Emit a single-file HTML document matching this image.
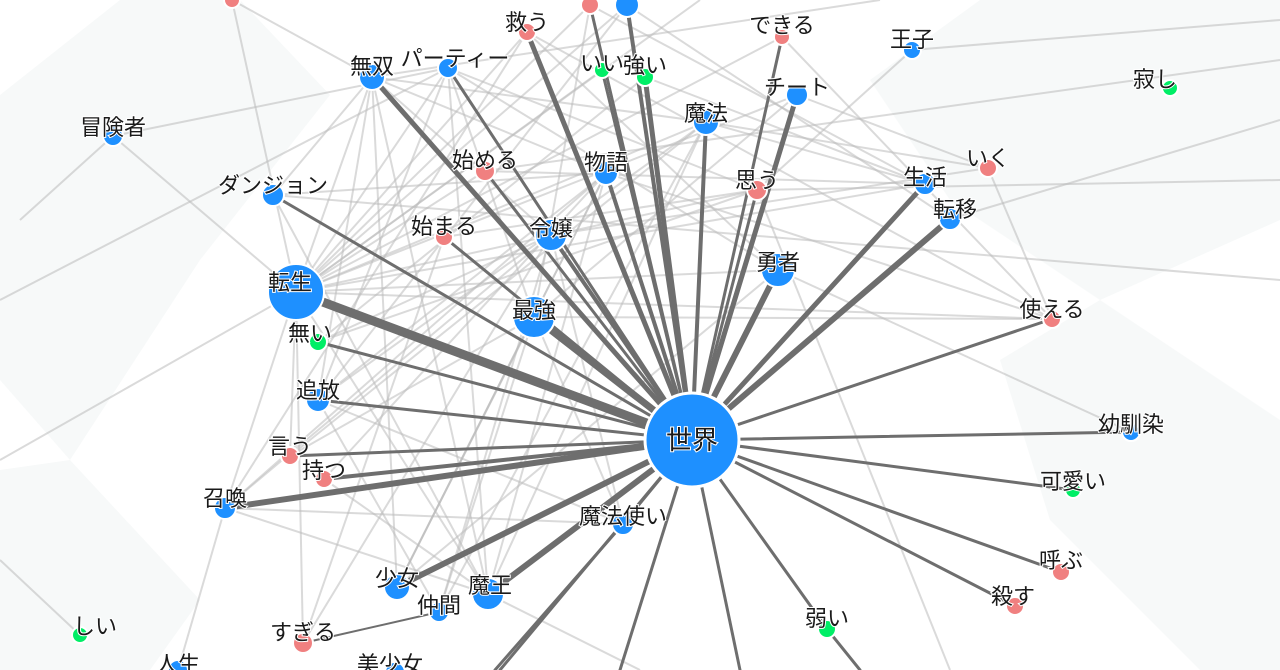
<!DOCTYPE html>
<html><head><meta charset="utf-8"><style>
html,body{margin:0;padding:0;background:#fff;width:1280px;height:670px;overflow:hidden}
svg text{font-family:"Liberation Sans","Noto Sans CJK JP",sans-serif;font-size:22px;fill:#1a1a1a;text-anchor:middle;stroke:#fff;stroke-width:2px;paint-order:stroke}
</style></head><body>
<svg width="1280" height="670" viewBox="0 0 1280 670" xmlns="http://www.w3.org/2000/svg">
<g fill="#f7f9f9">
<polygon points="0,95 120,0 240,0 330,95 200,260 70,460 0,380"/>
<polygon points="0,470 70,460 200,600 150,670 0,670"/>
<polygon points="870,80 980,0 1280,0 1280,220 1100,300 950,200"/>
<polygon points="1000,360 1100,300 1280,420 1280,670 1200,670 1050,520"/>
</g>
<g stroke="#bbb" stroke-opacity="0.55" stroke-width="2" fill="none">
<line x1="113" y1="136" x2="448" y2="68"/><line x1="113" y1="136" x2="296" y2="292"/><line x1="113" y1="136" x2="20" y2="220"/>
<line x1="232" y1="0" x2="296" y2="292"/><line x1="232" y1="0" x2="372" y2="77"/><line x1="372" y1="77" x2="296" y2="292"/>
<line x1="372" y1="77" x2="551" y2="235"/><line x1="372" y1="77" x2="606" y2="173"/><line x1="372" y1="77" x2="706" y2="122"/>
<line x1="372" y1="77" x2="318" y2="400"/><line x1="372" y1="77" x2="397" y2="587"/><line x1="372" y1="77" x2="488" y2="594"/>
<line x1="448" y1="68" x2="296" y2="292"/><line x1="448" y1="68" x2="534" y2="317"/><line x1="448" y1="68" x2="778" y2="270"/>
<line x1="448" y1="68" x2="318" y2="400"/><line x1="448" y1="68" x2="488" y2="594"/><line x1="527" y1="32" x2="296" y2="292"/>
<line x1="527" y1="32" x2="225" y2="508"/><line x1="527" y1="32" x2="778" y2="270"/><line x1="527" y1="32" x2="1052" y2="319"/>
<line x1="590" y1="5" x2="296" y2="292"/><line x1="590" y1="5" x2="534" y2="317"/><line x1="590" y1="5" x2="925" y2="184"/>
<line x1="627" y1="5" x2="296" y2="292"/><line x1="627" y1="5" x2="950" y2="219"/><line x1="627" y1="5" x2="318" y2="400"/>
<line x1="602" y1="70" x2="296" y2="292"/><line x1="645" y1="77" x2="318" y2="342"/><line x1="645" y1="77" x2="925" y2="184"/>
<line x1="706" y1="122" x2="296" y2="292"/><line x1="706" y1="122" x2="318" y2="400"/><line x1="706" y1="122" x2="925" y2="184"/>
<line x1="706" y1="122" x2="988" y2="168"/><line x1="706" y1="122" x2="488" y2="594"/><line x1="797" y1="95" x2="296" y2="292"/>
<line x1="797" y1="95" x2="988" y2="168"/><line x1="797" y1="95" x2="534" y2="317"/><line x1="782" y1="37" x2="296" y2="292"/>
<line x1="782" y1="37" x2="1052" y2="319"/><line x1="912" y1="50" x2="757" y2="190"/><line x1="912" y1="50" x2="1280" y2="20"/>
<line x1="606" y1="173" x2="1052" y2="319"/><line x1="606" y1="173" x2="225" y2="508"/><line x1="606" y1="173" x2="397" y2="587"/>
<line x1="485" y1="171" x2="296" y2="292"/><line x1="485" y1="171" x2="925" y2="184"/><line x1="444" y1="237" x2="757" y2="190"/>
<line x1="444" y1="237" x2="303" y2="643"/><line x1="551" y1="235" x2="225" y2="508"/><line x1="551" y1="235" x2="303" y2="643"/>
<line x1="551" y1="235" x2="988" y2="168"/><line x1="551" y1="235" x2="439" y2="612"/><line x1="534" y1="317" x2="290" y2="456"/>
<line x1="534" y1="317" x2="1052" y2="319"/><line x1="534" y1="317" x2="397" y2="587"/><line x1="534" y1="317" x2="439" y2="612"/>
<line x1="778" y1="270" x2="296" y2="292"/><line x1="778" y1="270" x2="397" y2="587"/><line x1="778" y1="270" x2="1131" y2="432"/>
<line x1="296" y1="292" x2="757" y2="190"/><line x1="296" y1="292" x2="925" y2="184"/><line x1="296" y1="292" x2="290" y2="456"/>
<line x1="296" y1="292" x2="303" y2="643"/><line x1="296" y1="292" x2="488" y2="594"/><line x1="296" y1="292" x2="1052" y2="319"/>
<line x1="273" y1="195" x2="606" y2="173"/><line x1="273" y1="195" x2="488" y2="594"/><line x1="273" y1="195" x2="1280" y2="280"/>
<line x1="318" y1="342" x2="757" y2="190"/><line x1="318" y1="342" x2="551" y2="235"/><line x1="318" y1="400" x2="606" y2="173"/>
<line x1="318" y1="400" x2="439" y2="612"/><line x1="318" y1="400" x2="623" y2="524"/><line x1="290" y1="456" x2="706" y2="122"/>
<line x1="324" y1="479" x2="606" y2="173"/><line x1="324" y1="479" x2="488" y2="594"/><line x1="225" y1="508" x2="488" y2="594"/>
<line x1="225" y1="508" x2="178" y2="670"/><line x1="225" y1="508" x2="296" y2="292"/><line x1="225" y1="508" x2="623" y2="524"/>
<line x1="397" y1="587" x2="606" y2="173"/><line x1="488" y1="594" x2="606" y2="173"/><line x1="488" y1="594" x2="640" y2="670"/>
<line x1="439" y1="612" x2="706" y2="122"/><line x1="623" y1="524" x2="534" y2="317"/><line x1="757" y1="190" x2="1280" y2="180"/>
<line x1="950" y1="219" x2="1280" y2="120"/><line x1="988" y1="168" x2="1052" y2="319"/><line x1="757" y1="190" x2="950" y2="670"/>
<line x1="80" y1="635" x2="0" y2="560"/><line x1="296" y1="292" x2="0" y2="460"/><line x1="273" y1="195" x2="372" y2="77"/>
<line x1="448" y1="68" x2="757" y2="190"/><line x1="0" y1="300" x2="448" y2="68"/><line x1="551" y1="235" x2="623" y2="524"/>
<line x1="296" y1="292" x2="700" y2="0"/><line x1="372" y1="77" x2="880" y2="0"/><line x1="485" y1="171" x2="1280" y2="60"/>
</g>
<g stroke="#6e6e6e" fill="none" stroke-linecap="round">
<line x1="692" y1="440" x2="296" y2="292" stroke-width="9"/>
<line x1="692" y1="440" x2="534" y2="317" stroke-width="7"/>
<line x1="692" y1="440" x2="778" y2="270" stroke-width="6"/>
<line x1="692" y1="440" x2="950" y2="219" stroke-width="6"/>
<line x1="692" y1="440" x2="925" y2="184" stroke-width="5"/>
<line x1="692" y1="440" x2="225" y2="508" stroke-width="6"/>
<line x1="692" y1="440" x2="397" y2="587" stroke-width="6"/>
<line x1="692" y1="440" x2="488" y2="594" stroke-width="6"/>
<line x1="692" y1="440" x2="623" y2="524" stroke-width="3"/>
<line x1="692" y1="440" x2="372" y2="77" stroke-width="5"/>
<line x1="692" y1="440" x2="527" y2="32" stroke-width="5"/>
<line x1="692" y1="440" x2="551" y2="235" stroke-width="4"/>
<line x1="692" y1="440" x2="606" y2="173" stroke-width="4"/>
<line x1="692" y1="440" x2="645" y2="77" stroke-width="5"/>
<line x1="692" y1="440" x2="602" y2="70" stroke-width="3"/>
<line x1="692" y1="440" x2="627" y2="5" stroke-width="4"/>
<line x1="692" y1="440" x2="590" y2="5" stroke-width="3"/>
<line x1="692" y1="440" x2="706" y2="122" stroke-width="4"/>
<line x1="692" y1="440" x2="797" y2="95" stroke-width="5"/>
<line x1="692" y1="440" x2="757" y2="190" stroke-width="3"/>
<line x1="692" y1="440" x2="782" y2="37" stroke-width="3"/>
<line x1="692" y1="440" x2="448" y2="68" stroke-width="3"/>
<line x1="692" y1="440" x2="485" y2="171" stroke-width="3"/>
<line x1="692" y1="440" x2="444" y2="237" stroke-width="3"/>
<line x1="692" y1="440" x2="273" y2="195" stroke-width="3"/>
<line x1="692" y1="440" x2="318" y2="342" stroke-width="3"/>
<line x1="692" y1="440" x2="318" y2="400" stroke-width="3"/>
<line x1="692" y1="440" x2="290" y2="456" stroke-width="3"/>
<line x1="692" y1="440" x2="324" y2="479" stroke-width="4"/>
<line x1="692" y1="440" x2="1052" y2="319" stroke-width="3"/>
<line x1="692" y1="440" x2="1131" y2="432" stroke-width="3"/>
<line x1="692" y1="440" x2="1073" y2="490" stroke-width="3"/>
<line x1="692" y1="440" x2="1061" y2="572" stroke-width="3"/>
<line x1="692" y1="440" x2="1015" y2="606" stroke-width="3"/>
<line x1="692" y1="440" x2="827" y2="629" stroke-width="3"/>
<line x1="827" y1="629" x2="860" y2="670" stroke-width="3"/>
<line x1="692" y1="440" x2="740" y2="670" stroke-width="3"/>
<line x1="692" y1="440" x2="620" y2="670" stroke-width="3"/>
<line x1="692" y1="440" x2="500" y2="670" stroke-width="3"/>
<line x1="623" y1="524" x2="495" y2="670" stroke-width="3"/>
<line x1="439" y1="612" x2="303" y2="643" stroke-width="2"/>
</g>
<g stroke="#fff" stroke-width="2">
<circle cx="232" cy="0" r="8" fill="#f08080"/>
<circle cx="590" cy="5" r="9" fill="#f08080"/>
<circle cx="627" cy="5" r="12" fill="#1e90ff"/>
<circle cx="527" cy="32" r="9" fill="#f08080"/>
<circle cx="372" cy="77" r="13" fill="#1e90ff"/>
<circle cx="448" cy="68" r="10" fill="#1e90ff"/>
<circle cx="602" cy="70" r="8" fill="#00ee66"/>
<circle cx="645" cy="77" r="9" fill="#00ee66"/>
<circle cx="782" cy="37" r="8" fill="#f08080"/>
<circle cx="912" cy="50" r="9" fill="#1e90ff"/>
<circle cx="797" cy="95" r="11" fill="#1e90ff"/>
<circle cx="706" cy="122" r="13" fill="#1e90ff"/>
<circle cx="113" cy="136" r="10" fill="#1e90ff"/>
<circle cx="1170" cy="88" r="8" fill="#00ee66"/>
<circle cx="485" cy="171" r="10" fill="#f08080"/>
<circle cx="606" cy="173" r="12" fill="#1e90ff"/>
<circle cx="757" cy="190" r="10" fill="#f08080"/>
<circle cx="925" cy="184" r="11" fill="#1e90ff"/>
<circle cx="988" cy="168" r="9" fill="#f08080"/>
<circle cx="950" cy="219" r="11" fill="#1e90ff"/>
<circle cx="273" cy="195" r="11" fill="#1e90ff"/>
<circle cx="444" cy="237" r="9" fill="#f08080"/>
<circle cx="551" cy="235" r="16" fill="#1e90ff"/>
<circle cx="778" cy="270" r="17" fill="#1e90ff"/>
<circle cx="296" cy="292" r="28" fill="#1e90ff"/>
<circle cx="534" cy="317" r="21" fill="#1e90ff"/>
<circle cx="1052" cy="319" r="9" fill="#f08080"/>
<circle cx="318" cy="342" r="9" fill="#00ee66"/>
<circle cx="318" cy="400" r="12" fill="#1e90ff"/>
<circle cx="1131" cy="432" r="9" fill="#1e90ff"/>
<circle cx="290" cy="456" r="9" fill="#f08080"/>
<circle cx="324" cy="479" r="9" fill="#f08080"/>
<circle cx="1073" cy="490" r="8" fill="#00ee66"/>
<circle cx="225" cy="508" r="11" fill="#1e90ff"/>
<circle cx="623" cy="524" r="11" fill="#1e90ff"/>
<circle cx="1061" cy="572" r="9" fill="#f08080"/>
<circle cx="1015" cy="606" r="9" fill="#f08080"/>
<circle cx="397" cy="587" r="13" fill="#1e90ff"/>
<circle cx="488" cy="594" r="16" fill="#1e90ff"/>
<circle cx="439" cy="612" r="10" fill="#1e90ff"/>
<circle cx="303" cy="643" r="10" fill="#f08080"/>
<circle cx="827" cy="629" r="9" fill="#00ee66"/>
<circle cx="80" cy="635" r="8" fill="#00ee66"/>
<circle cx="178" cy="670" r="10" fill="#1e90ff"/>
<circle cx="395" cy="672" r="10" fill="#1e90ff"/>
<circle cx="692" cy="440" r="47" fill="#1e90ff" stroke-width="3"/>
</g>
<g>
<text x="527" y="30">救う</text>
<text x="372" y="74">無双</text>
<text x="455" y="66">パーティー</text>
<text x="602" y="71">いい</text>
<text x="645" y="73">強い</text>
<text x="782" y="33">できる</text>
<text x="912" y="47">王子</text>
<text x="797" y="95">チート</text>
<text x="706" y="121">魔法</text>
<text x="113" y="135">冒険者</text>
<text x="1155" y="87">寂し</text>
<text x="485" y="168">始める</text>
<text x="606" y="170">物語</text>
<text x="757" y="188">思う</text>
<text x="925" y="185">生活</text>
<text x="988" y="166">いく</text>
<text x="955" y="217">転移</text>
<text x="273" y="193">ダンジョン</text>
<text x="444" y="234">始まる</text>
<text x="551" y="236">令嬢</text>
<text x="778" y="270">勇者</text>
<text x="290" y="290">転生</text>
<text x="534" y="318">最強</text>
<text x="1052" y="317">使える</text>
<text x="310" y="341">無い</text>
<text x="318" y="398">追放</text>
<text x="1131" y="432">幼馴染</text>
<text x="290" y="454">言う</text>
<text x="324" y="478">持つ</text>
<text x="1073" y="489">可愛い</text>
<text x="225" y="506">召喚</text>
<text x="623" y="524">魔法使い</text>
<text x="1061" y="568">呼ぶ</text>
<text x="1013" y="604">殺す</text>
<text x="397" y="586">少女</text>
<text x="490" y="593">魔王</text>
<text x="439" y="613">仲間</text>
<text x="303" y="640">すぎる</text>
<text x="827" y="626">弱い</text>
<text x="95" y="634">しい</text>
<text x="178" y="672">人生</text>
<text x="390" y="672">美少女</text>
<text x="692" y="449" style="font-size:26px">世界</text>
</g>
</svg>
</body></html>
